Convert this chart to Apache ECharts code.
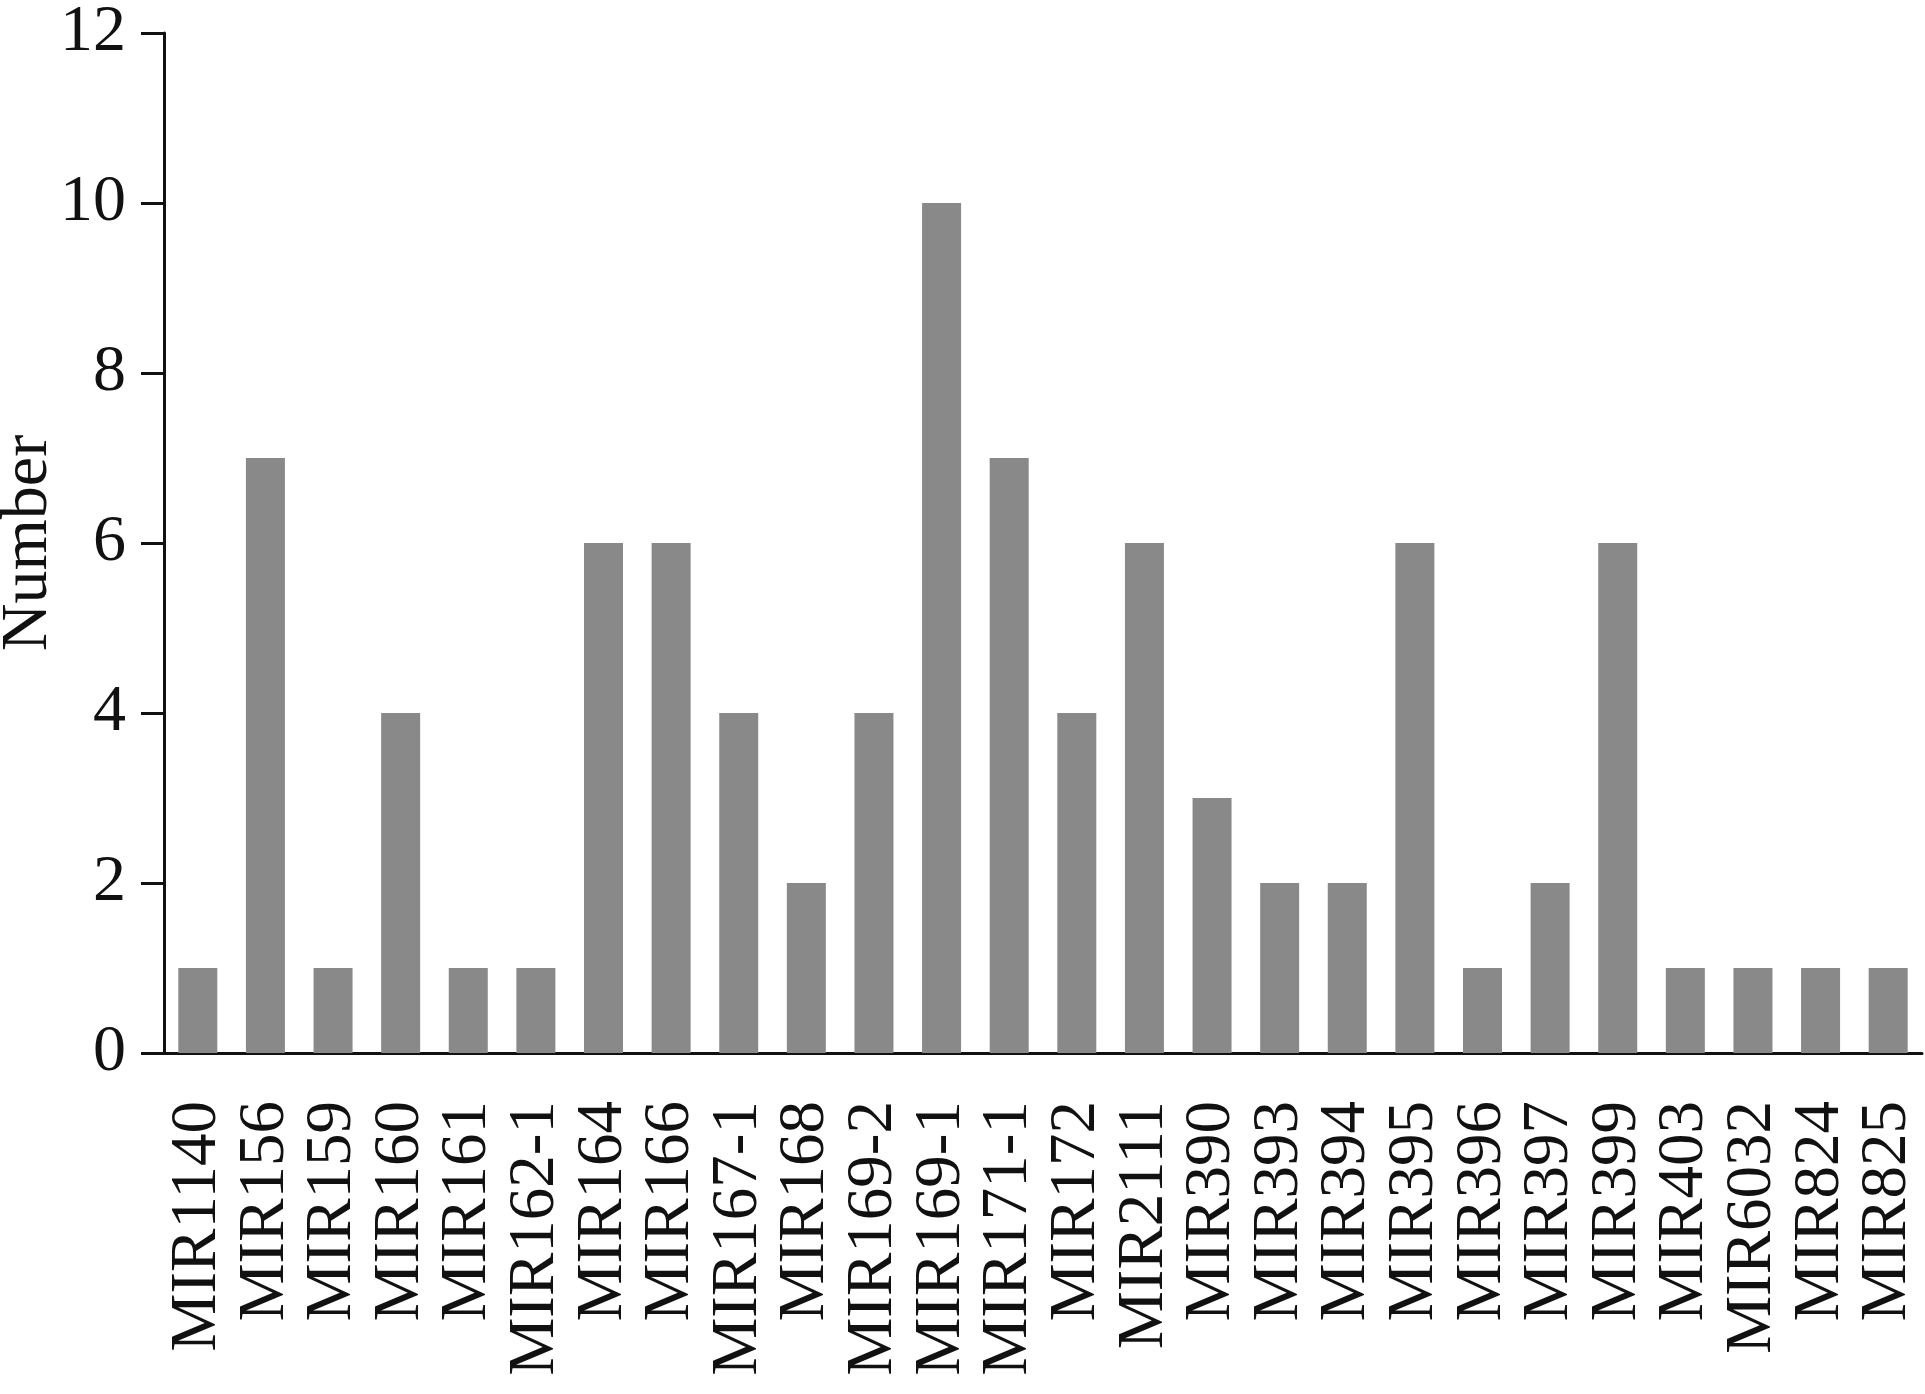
<!DOCTYPE html>
<html><head><meta charset="utf-8">
<script src="https://cdn.jsdelivr.net/npm/echarts@6/dist/echarts.min.js"></script>
<style>html,body{margin:0;padding:0;background:#fff}#c{width:1925px;height:1394px}</style>
</head><body><div id="c"></div>
<script>
const categories = ['MIR1140','MIR156','MIR159','MIR160','MIR161','MIR162-1','MIR164','MIR166','MIR167-1','MIR168','MIR169-2','MIR169-1','MIR171-1','MIR172','MIR2111','MIR390','MIR393','MIR394','MIR395','MIR396','MIR397','MIR399','MIR403','MIR6032','MIR824','MIR825'];
const values = [1,7,1,4,1,1,6,6,4,2,4,10,7,4,6,3,2,2,6,1,2,6,1,1,1,1];
const yTicks = [0,2,4,6,8,10,12];

const font = 'Liberation Serif';
const chart = echarts.init(document.getElementById('c'));
chart.setOption({
  animation: false,
  backgroundColor: '#fff',
  grid: {left: 164, right: 3, top: 33, bottom: 341, containLabel: false, outerBoundsMode: 'none'},
  xAxis: {
    type: 'category',
    data: categories,
    boundaryGap: true,
    axisLine: {lineStyle: {color: '#111', width: 3}},
    axisTick: {alignWithLabel: true, length: 24, lineStyle: {color: '#111', width: 3}},
    axisLabel: {rotate: 90, interval: 0, margin: 48, color: '#111', fontFamily: font, fontSize: 65}
  },
  yAxis: {
    type: 'value',
    min: yTicks[0], max: yTicks[yTicks.length-1], interval: 2,
    name: 'Number', nameLocation: 'middle', nameGap: 102, nameMoveOverlap: false,
    nameTextStyle: {color: '#111', fontFamily: font, fontSize: 66},
    axisLine: {show: true, lineStyle: {color: '#111', width: 3}},
    axisTick: {show: true, length: 23, lineStyle: {color: '#111', width: 3}},
    axisLabel: {margin: 38, color: '#111', fontFamily: font, fontSize: 66},
    splitLine: {show: false}
  },
  series: [{
    type: 'bar',
    data: values,
    barWidth: 39,
    itemStyle: {color: '#898989'}
  }]
});
</script></body></html>
